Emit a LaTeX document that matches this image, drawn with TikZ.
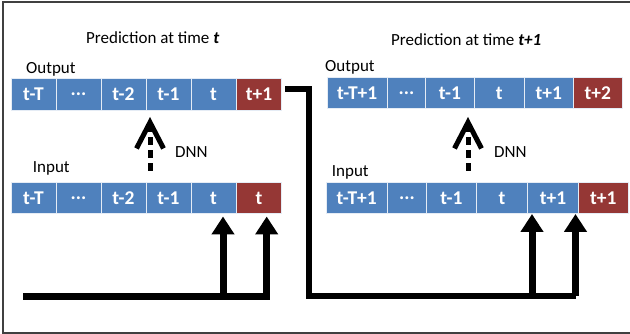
\documentclass[tikz,border=0pt]{standalone}
\usepackage{fontspec}
\setmainfont{Carlito}
\usetikzlibrary{arrows.meta}
\definecolor{cblue}{HTML}{4F81BD}
\definecolor{cred}{HTML}{953735}
\definecolor{frame}{HTML}{404040}
\begin{document}
\begin{tikzpicture}[x=1pt,y=-1pt,
  cell/.style={rectangle, draw=white!85!cblue, line width=0.9pt, inner sep=0pt,
    minimum height=31.5pt, text=white, font=\fontsize{19.5}{20}\selectfont\bfseries},
  bcell/.style={cell, fill=cblue},
  rcell/.style={cell, fill=cred},
  lbl/.style={inner sep=0pt, anchor=base west, font=\fontsize{17}{18}\selectfont},
  feed/.style={line width=7pt, -{Triangle[length=18pt,width=22pt]}},
  link/.style={line width=6.5pt},
  dnnarrow/.style={line width=5pt, dash pattern=on 8pt off 5pt,
    -{Straight Barb[length=26pt,width=27pt,line width=5pt]}}
]
\useasboundingbox (0,0) rectangle (630,334);
\begin{scope}
\clip (0,0) rectangle (630,334);
\draw[frame, line width=1.3pt] (3,2) rectangle (640,333);
\end{scope}

% titles and labels
\node[lbl] (t1) at (86,44) {Prediction at time \textbf{\textit{t}}};
\node[lbl] (t2) at (391,46) {Prediction at time \textbf{\textit{t+1}}};
\node[lbl] (o1) at (26,73.5) {Output};
\node[lbl] (o2) at (325,71.5) {Output};
\node[lbl] (i1) at (32.7,172.7) {Input};
\node[lbl] (i2) at (331.7,176.7) {Input};
\node[lbl] (d1) at (175,157.5) {DNN};
\node[lbl] (d2) at (494,157.5) {DNN};

% left output row
\node[bcell, minimum width=45pt] (lo1) at (33.5,94.5) {t-T};
\node[bcell, minimum width=45pt] (lo2) at (78.5,94.5) {...};
\node[bcell, minimum width=45pt] (lo3) at (123.5,94.5) {t-2};
\node[bcell, minimum width=45pt] (lo4) at (168.5,94.5) {t-1};
\node[bcell, minimum width=45pt] (lo5) at (213.5,94.5) {t};
\node[rcell, minimum width=45pt] (lo6) at (259,94.5) {t+1};
% left input row
\node[bcell, minimum width=45pt] (li1) at (33.5,198) {t-T};
\node[bcell, minimum width=45pt] (li2) at (78.5,198) {...};
\node[bcell, minimum width=45pt] (li3) at (123.5,198) {t-2};
\node[bcell, minimum width=45pt] (li4) at (168.5,198) {t-1};
\node[bcell, minimum width=45pt] (li5) at (213.5,198) {t};
\node[rcell, minimum width=45pt] (li6) at (259,198) {t};

% right output row
\node[bcell, minimum width=60.5pt] (ro1) at (357.25,93) {t-T+1};
\node[bcell, minimum width=38pt] (ro2) at (406.5,93) {...};
\node[bcell, minimum width=49pt] (ro3) at (450,93) {t-1};
\node[bcell, minimum width=49.5pt] (ro4) at (499.25,93) {t};
\node[bcell, minimum width=49.5pt] (ro5) at (548.75,93) {t+1};
\node[rcell, minimum width=48.5pt] (ro6) at (597.75,93) {t+2};
% right input row
\node[bcell, minimum width=61.5pt] (ri1) at (356.75,198) {t-T+1};
\node[bcell, minimum width=39pt] (ri2) at (407,198) {...};
\node[bcell, minimum width=50pt] (ri3) at (451.5,198) {t-1};
\node[bcell, minimum width=51pt] (ri4) at (502,198) {t};
\node[bcell, minimum width=51pt] (ri5) at (553,198) {t+1};
\node[rcell, minimum width=49.5pt] (ri6) at (603.25,198) {t+1};

% DNN arrows
\coordinate (da1) at (150,171);
\coordinate (db1) at (150,117);
\coordinate (da2) at (468,171);
\coordinate (db2) at (468,117);
\draw[dnnarrow] (da1) -- (db1);
\draw[dnnarrow] (da2) -- (db2);

% left feed
\coordinate (ls) at (23,296.5);
\coordinate (la) at (223,216.5);
\coordinate (lb) at (266.7,216.5);
\draw[feed] (ls) -| (lb);
\draw[feed] (223,296.5) -- (la);

% link from prediction to next input
\coordinate (ks) at (285,89);
\coordinate (ra) at (532,214);
\coordinate (rb) at (575.5,214);
\draw[link, line join=miter] (ks) -- (309,89) |- (575.5,296);
\draw[feed] (575.5,296) -- (rb);
\draw[feed] (532,296) -- (ra);
\end{tikzpicture}
\end{document}
